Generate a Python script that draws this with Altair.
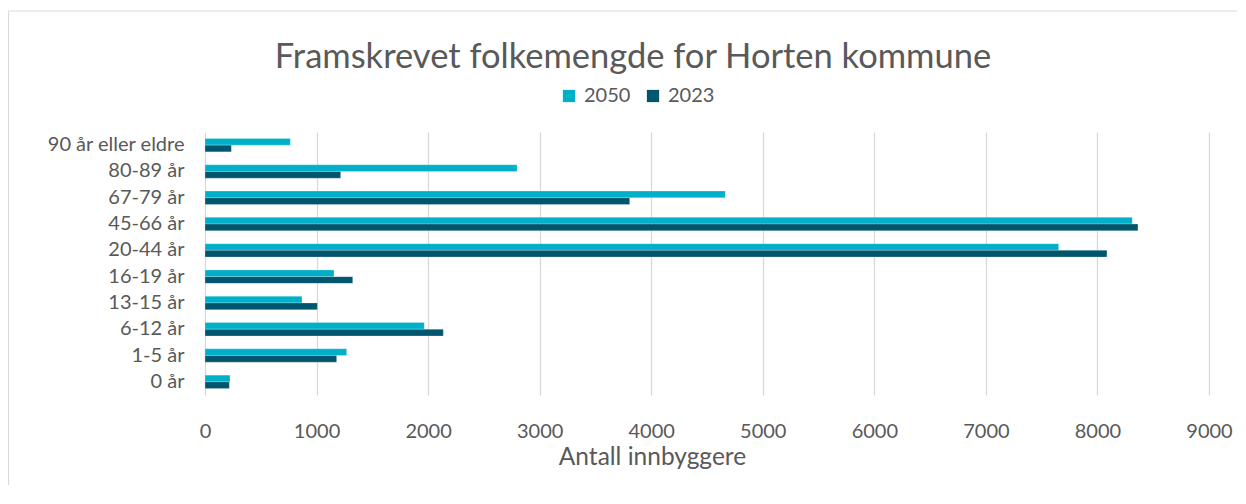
import altair as alt
import pandas as pd

categories = ["90 år eller eldre", "80-89 år", "67-79 år", "45-66 år", "20-44 år",
              "16-19 år", "13-15 år", "6-12 år", "1-5 år", "0 år"]
values_2050 = [765, 2797, 4664, 8312, 7652, 1156, 869, 1966, 1270, 224]
values_2023 = [236, 1216, 3807, 8363, 8085, 1324, 1007, 2136, 1180, 218]
series = ["2050", "2023"]
colors = ["#00B0C9", "#00566F"]
x_ticks = [0, 1000, 2000, 3000, 4000, 5000, 6000, 7000, 8000, 9000]

rows = []
for cat, v in zip(categories, values_2050):
    rows.append({"Aldersgruppe": cat, "År": "2050", "Antall": v})
for cat, v in zip(categories, values_2023):
    rows.append({"Aldersgruppe": cat, "År": "2023", "Antall": v})
df = pd.DataFrame(rows)

FONT = "Lato"
TEXT = "#595959"

bars = alt.Chart(df).mark_bar(stroke="#ffffff", strokeWidth=0.4, strokeOpacity=0.6).encode(
    y=alt.Y("Aldersgruppe:N", sort=categories,
            scale=alt.Scale(paddingInner=0.49, paddingOuter=0.245),
            axis=alt.Axis(title=None, ticks=False, domain=False, labelFont=FONT,
                          labelFontSize=20, labelColor=TEXT, labelPadding=21, grid=False)),
    yOffset=alt.YOffset("År:N", sort=series),
    x=alt.X("Antall:Q", scale=alt.Scale(domain=[0, 9000], nice=False),
            axis=alt.Axis(values=x_ticks, format="d", title="Antall innbyggere", ticks=False,
                          domain=False, grid=True, gridColor="#D9D9D9", gridWidth=1.3,
                          labelFlush=False,
                          labelFont=FONT, labelFontSize=20, labelColor=TEXT, labelPadding=26,
                          titleFont=FONT, titleFontSize=24.5, titleColor=TEXT,
                          titleFontWeight="normal", titlePadding=4, titleX=447,
                          titleAlign="center")),
    color=alt.Color("År:N", sort=series,
                    scale=alt.Scale(domain=series, range=colors),
                    legend=alt.Legend(title=None, orient="none", direction="horizontal",
                                      legendX=354, legendY=-46, symbolType="square",
                                      symbolSize=150, symbolStrokeWidth=0, labelFont=FONT,
                                      labelFontSize=20, labelColor=TEXT, labelOffset=5,
                                      columnPadding=12, padding=0)),
)

frame = pd.DataFrame({"k": [0]})
border = alt.Chart(frame).mark_rule(color="#D9D9D9", strokeWidth=1).encode(
    x=alt.value(-196.5), y=alt.value(-121), y2=alt.value(380)
) + alt.Chart(frame).mark_rule(color="#D9D9D9", strokeWidth=1).encode(
    x=alt.value(-196.5), x2=alt.value(1040), y=alt.value(-121)
)

chart = alt.layer(bars, border).properties(
    width=1004,
    height=263,
    background="white",
    autosize=alt.AutoSizeParams(type="none"),
    padding={"left": 197, "top": 124, "right": 28, "bottom": 90},
    title=alt.TitleParams("Framskrevet folkemengde for Horten kommune", font=FONT, fontSize=34.5,
                          fontWeight="normal", color=TEXT, anchor="middle", baseline="alphabetic",
                          dx=-74, offset=0, dy=92),
).configure_view(stroke=None)

chart.save("out.html", embed_options={"renderer": "svg", "actions": False})
